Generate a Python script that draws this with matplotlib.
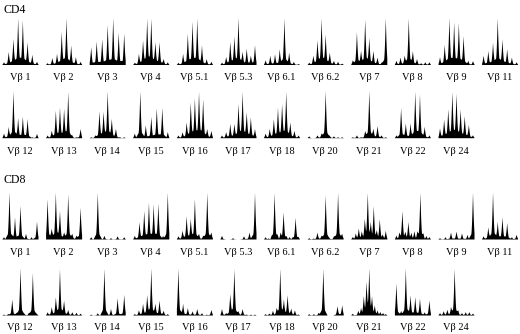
import numpy as np
import matplotlib
matplotlib.use("Agg")
import matplotlib.pyplot as plt

# spectratype peak heights (relative to tallest peak in each panel)
row1_labels = ["Vβ 1", "Vβ 2", "Vβ 3", "Vβ 4", "Vβ 5.1", "Vβ 5.3",
               "Vβ 6.1", "Vβ 6.2", "Vβ 7", "Vβ 8", "Vβ 9", "Vβ 11"]
row2_labels = ["Vβ 12", "Vβ 13", "Vβ 14", "Vβ 15", "Vβ 16", "Vβ 17",
               "Vβ 18", "Vβ 20", "Vβ 21", "Vβ 22", "Vβ 24"]

cd4_row1 = [
    [0.06, 0.28, 0.56, 1.0, 0.96, 0.49, 0.22, 0.07],
    [0.04, 0.15, 0.24, 0.71, 1.0, 0.42, 0.17, 0.07],
    [0.38, 0.5, 0.55, 0.85, 1.0, 0.68, 0.67],
    [0.05, 0.24, 0.53, 1.0, 1.0, 0.49, 0.49, 0.13, 0.06],
    [0.05, 0.24, 0.67, 0.93, 1.0, 0.42, 0.13, 0.07],
    [0.05, 0.17, 0.49, 0.6, 1.0, 0.28, 0.35, 0.2, 0.42],
    [0.1, 0.2, 0.23, 0.34, 1.0, 0.27, 0.07, 0.02],
    [0.05, 0.2, 0.53, 1.0, 0.66, 0.27, 0.09, 0.07, 0.03],
    [0.1, 0.7, 0.3, 0.97, 0.58, 0.3, 0.16, 0.05, 1.0],
    [0.09, 0.16, 0.2, 1.0, 0.3, 0.13, 0.04, 0.06, 0.06],
    [0.16, 0.41, 0.96, 0.87, 0.86, 0.59, 0.09, 0.08],
    [0.2, 0.3, 0.48, 1.0, 0.55, 0.34, 0.16, 0.06],
]
cd4_row2 = [
    [0.1, 0.24, 1.0, 0.43, 0.46, 0.41, 0.02, 0.09],
    [0.06, 0.16, 0.59, 0.66, 0.63, 1.0, 0.06, 0.02, 0.2],
    [0.02, 0.06, 0.57, 0.56, 1.0, 0.41, 0.2, 0.02, 0.02],
    [0.1, 0.99, 0.27, 0.45, 0.63, 0.64, 0.13],
    [0.06, 0.13, 0.34, 0.77, 0.86, 1.0, 0.84, 0.2, 0.16],
    [0.06, 0.13, 0.31, 0.31, 0.74, 1.0, 0.56, 0.45, 0.2],
    [0.1, 0.2, 0.41, 0.66, 0.74, 1.0, 0.34, 0.16, 0.06],
    [0.04, 0.0, 0.06, 0.1, 1.0, 0.05, 0.04, 0.02, 0.02],
    [0.02, 0.06, 0.02, 0.15, 1.0, 0.2, 0.26, 0.06, 0.02],
    [0.06, 0.63, 0.31, 0.31, 0.97, 0.91, 0.24, 0.06],
    [0.2, 0.38, 0.59, 0.95, 0.91, 0.59, 0.45, 0.27, 0.06],
]
cd8_row1 = [
    [0.05, 1.0, 0.47, 0.72, 0.12, 0.05, 0.38],
    [0.86, 0.23, 1.0, 0.61, 0.15, 0.96, 0.12, 0.08, 0.68],
    [0.05, 1.0, 0.08, 0.03, 0.07, 0.05],
    [0.08, 0.37, 0.61, 0.79, 0.75, 0.77, 0.08, 1.0],
    [0.07, 0.19, 0.5, 0.44, 0.87, 0.12, 0.08, 1.0, 0.15],
    [0.08, 0.0, 0.03, 0.0, 0.07, 0.15, 1.0],
    [0.05, 0.02, 0.03, 1.0, 0.05, 0.12, 0.58, 0.04, 0.05, 0.02, 0.47, 0.03],
    [0.03, 0.02, 0.15, 0.08, 0.95, 0.02, 0.07, 1.0, 0.12],
    [0.05, 0.12, 0.23, 0.15, 0.4, 1.0, 0.3, 0.72, 0.15, 0.44, 0.08, 0.19],
    [0.08, 0.12, 0.61, 0.12, 0.37, 0.12, 0.17, 0.12, 1.0, 0.08, 0.07, 0.05],
    [0.03, 0.05, 0.15, 0.17, 0.13, 0.1, 1.0],
    [0.07, 0.26, 1.0, 0.38, 0.47, 0.35, 0.05, 0.1],
]
cd8_row2 = [
    [0.02, 0.03, 0.34, 0.05, 1.0, 0.03, 0.05, 0.9, 0.03],
    [0.07, 0.18, 0.39, 1.0, 0.32, 0.12, 0.07, 0.06, 0.04],
    [0.02, 0.05, 1.0, 0.14, 0.37, 0.44],
    [0.03, 0.11, 0.25, 0.43, 1.0, 0.25, 0.32, 0.1, 0.03],
    [1.0, 0.25, 0.16, 0.09, 0.14, 0.05, 0.02, 0.12],
    [0.14, 0.05, 0.46, 1.0, 0.09, 0.14, 0.02, 0.02, 0.02],
    [0.03, 0.04, 0.1, 0.14, 1.0, 0.32, 0.43, 0.14, 0.11, 0.02],
    [0.03, 0.03, 0.06, 1.0, 0.0, 0.0, 0.2, 0.22],
    [0.04, 0.0, 0.1, 0.14, 0.39, 0.68, 1.0, 0.36, 0.2, 0.1, 0.07, 0.05, 0.03],
    [0.68, 0.1, 1.0, 0.43, 0.39, 0.36, 0.07, 0.32],
    [0.05, 0.09, 0.12, 0.16, 1.0, 0.09, 0.05, 0.07, 0.07, 0.04],
]

W, H = 520, 334
fig = plt.figure(figsize=(W / 100, H / 100), dpi=100)
plt.rcParams['font.family'] = ['Liberation Serif', 'DejaVu Serif']

# (labels, peaks, baseline y px, label y px)
rows = [
    (row1_labels, cd4_row1, 64.5, 77.5),
    (row2_labels, cd4_row2, 137.7, 151.0),
    (row1_labels, cd8_row1, 239.0, 252.5),
    (row2_labels, cd8_row2, 315.0, 327.5),
]
panel_h = 46.5
panel_w = 36.0
step = 43.6
margin = 1.5  # px between panel edge and outer peaks


def draw_panel(ax, heights):
    n = len(heights)
    spacing = (panel_w - 2 * margin) / (n - 1)  # px per slot
    pad = margin / spacing
    x = np.linspace(-pad, n - 1 + pad, 800)
    wn = 1.7 / spacing   # spike half-width
    ww = 4.2 / spacing   # broad foot half-width
    y = np.zeros_like(x)
    for i, h in enumerate(heights):
        d = np.abs(x - i)
        spike = np.clip(1 - d / wn, 0, None) ** 1.6
        foot = np.clip(1 - d / ww, 0, None)
        y += h * (0.82 * spike + 0.18 * foot)
    y = y / y.max()
    ax.fill_between(x, 0, y, color='black', linewidth=0)
    ax.set_xlim(-pad, n - 1 + pad)
    ax.set_ylim(0, 1)
    ax.axis('off')


for labels, peaks, base_y, lab_y in rows:
    for i, (lab, hts) in enumerate(zip(labels, peaks)):
        left = 2 + step * i
        ax = fig.add_axes([left / W, 1 - base_y / H, panel_w / W, panel_h / H])
        draw_panel(ax, hts)
        fig.text((left + panel_w / 2) / W, 1 - lab_y / H, lab,
                 ha='center', va='center', fontsize=7.5)

fig.text(3 / W, 1 - 10 / H, "CD4", ha='left', va='center', fontsize=8.5)
fig.text(3 / W, 1 - 180 / H, "CD8", ha='left', va='center', fontsize=8.5)

fig.savefig("out.png", dpi=100)
